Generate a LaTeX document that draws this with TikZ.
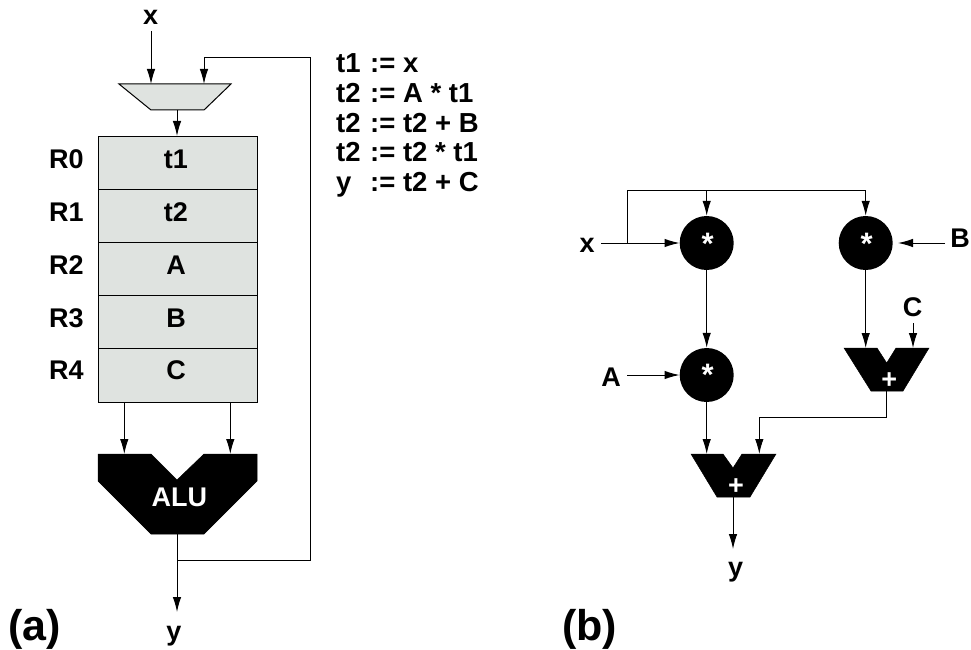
\documentclass[tikz,border=0pt]{standalone}
\usepackage{fontspec}
\setmainfont{Liberation Sans}
\usetikzlibrary{arrows.meta,calc}
\definecolor{regfill}{RGB}{223,227,224}
\tikzset{
  x=1pt,y=-1pt,
  wire/.style={line width=1pt,draw=black},
  arr/.style={wire,-{Latex[length=15pt,width=8.5pt]}},
  lab/.style={inner sep=0pt,anchor=base,font=\fontsize{27}{27}\selectfont\bfseries,text=black},
  wlab/.style={lab,text=white},
  starlab/.style={wlab,font=\fontsize{31}{31}\selectfont\bfseries},
  big/.style={inner sep=0pt,anchor=base west,font=\fontsize{43}{43}\selectfont\bfseries},
  code/.style={inner sep=0pt,anchor=base west,font=\fontsize{27.5}{27.5}\selectfont\bfseries},
  regbox/.style={draw=black,line width=1pt,fill=regfill,minimum width=159pt,minimum height=53.2pt,inner sep=0pt},
  opc/.style={circle,fill=black,minimum size=54pt,inner sep=0pt},
  blackshape/.style={fill=black,draw=black,line width=0.5pt},
}
\newcommand{\lhs}[1]{\makebox[34pt][l]{#1}}
\begin{document}
\begin{tikzpicture}
\useasboundingbox (0,0) rectangle (971,650);
% (a)
\node[lab] (xa) at (150.7,25) {x};
\draw[wire,fill=regfill] (119,84) -- (231,84) -- (204,110) -- (151,110) -- cycle;
\coordinate (muxa) at (151,84);
\coordinate (muxb) at (204,84);
\coordinate (muxo) at (177,110);
\node[regbox] (r0) at (177.5,162.6) {};
\node[regbox] (r1) at (177.5,215.8) {};
\node[regbox] (r2) at (177.5,269) {};
\node[regbox] (r3) at (177.5,322.2) {};
\node[regbox] (r4) at (177.5,375.4) {};
\node[lab] (v0) at (176,168) {t1};
\node[lab] (v1) at (176,221.5) {t2};
\node[lab] (v2) at (176,274) {A};
\node[lab] (v3) at (176,327) {B};
\node[lab] (v4) at (176,379) {C};
\node[lab] (l0) at (66.3,168) {R0};
\node[lab] (l1) at (66.3,221.5) {R1};
\node[lab] (l2) at (66.3,274) {R2};
\node[lab] (l3) at (66.3,327) {R3};
\node[lab] (l4) at (66.3,379) {R4};
\draw[blackshape] (98,454) -- (151,454) -- (177,480) -- (204,454) -- (257,454) -- (257,481) -- (204,534) -- (151,534) -- (98,481) -- cycle;
\node[wlab] (alu) at (179.3,506.7) {ALU};
\coordinate (alua) at (124.3,454);
\coordinate (alub) at (230.3,454);
\coordinate (aluo) at (177,534);
\coordinate (junc) at (177,560);
\coordinate (ya) at (177,612);
\node[lab] (ylab) at (174,640) {y};
\draw[arr] (151,31) -- (muxa);
\draw[arr] (junc) -- (310,560) -- (310,57.5) -- (204,57.5) -- (muxb);
\draw[arr] (muxo) -- (177,136);
\draw[arr] (alua |- r4.south) -- (alua);
\draw[arr] (alub |- r4.south) -- (alub);
\draw[arr] (aluo) -- (ya);
\node[code] at (336,72.3) {\lhs{t1}:= x};
\node[code] at (336,102.3) {\lhs{t2}:= A * t1};
\node[code] at (336,132) {\lhs{t2}:= t2 + B};
\node[code] at (336,161.7) {\lhs{t2}:= t2 * t1};
\node[code] at (336,191.7) {\lhs{y}:= t2 + C};
\node[big] at (8,640) {(a)};
\node[big] at (562,640) {(b)};
% (b)
\node[opc] (m1) at (706.7,243) {};
\node[opc] (m2) at (865.7,243) {};
\node[opc] (m3) at (706.7,375) {};
\node[starlab] at (707.7,254) {*};
\node[starlab] at (866.7,254) {*};
\node[starlab] at (707.7,385) {*};
\node[lab] (xb) at (587,252.7) {x};
\node[lab] (bl) at (960,247) {B};
\node[lab] (al) at (611,386) {A};
\node[lab] (cl) at (912.7,316.7) {C};
\node[lab] (yb) at (735.7,576.7) {y};
\draw[blackshape] (844,348) -- (877,348) -- (886.7,363) -- (896,348) -- (929,348) -- (903,391) -- (871,391) -- cycle;
\draw[blackshape] (691,454) -- (723,454) -- (733,468) -- (742,454) -- (776,454) -- (750,497) -- (717,497) -- cycle;
\node[wlab] at (889.3,388) {+};
\node[wlab] at (736,494) {+};
\coordinate (spl) at (627,243);
\draw[arr] (601,243) -- (m1.west);
\draw[wire] (spl) -- (627,190) -- (865.7,190);
\draw[arr] (706.7,190) -- (m1.north);
\draw[arr] (865.7,190) -- (m2.north);
\draw[arr] (945,243) -- (898,243);
\draw[arr] (627,375) -- (m3.west);
\draw[arr] (m1.south) -- (m3.north);
\draw[arr] (m2.south) -- (865.7,348);
\draw[arr] (913,323) -- (913,348);
\draw[arr] (886.7,391) -- (886.7,417) -- (759.3,417) -- (759.3,454);
\draw[arr] (m3.south) -- (706.7,454);
\draw[arr] (733,497) -- (733,549);
\end{tikzpicture}
\end{document}
